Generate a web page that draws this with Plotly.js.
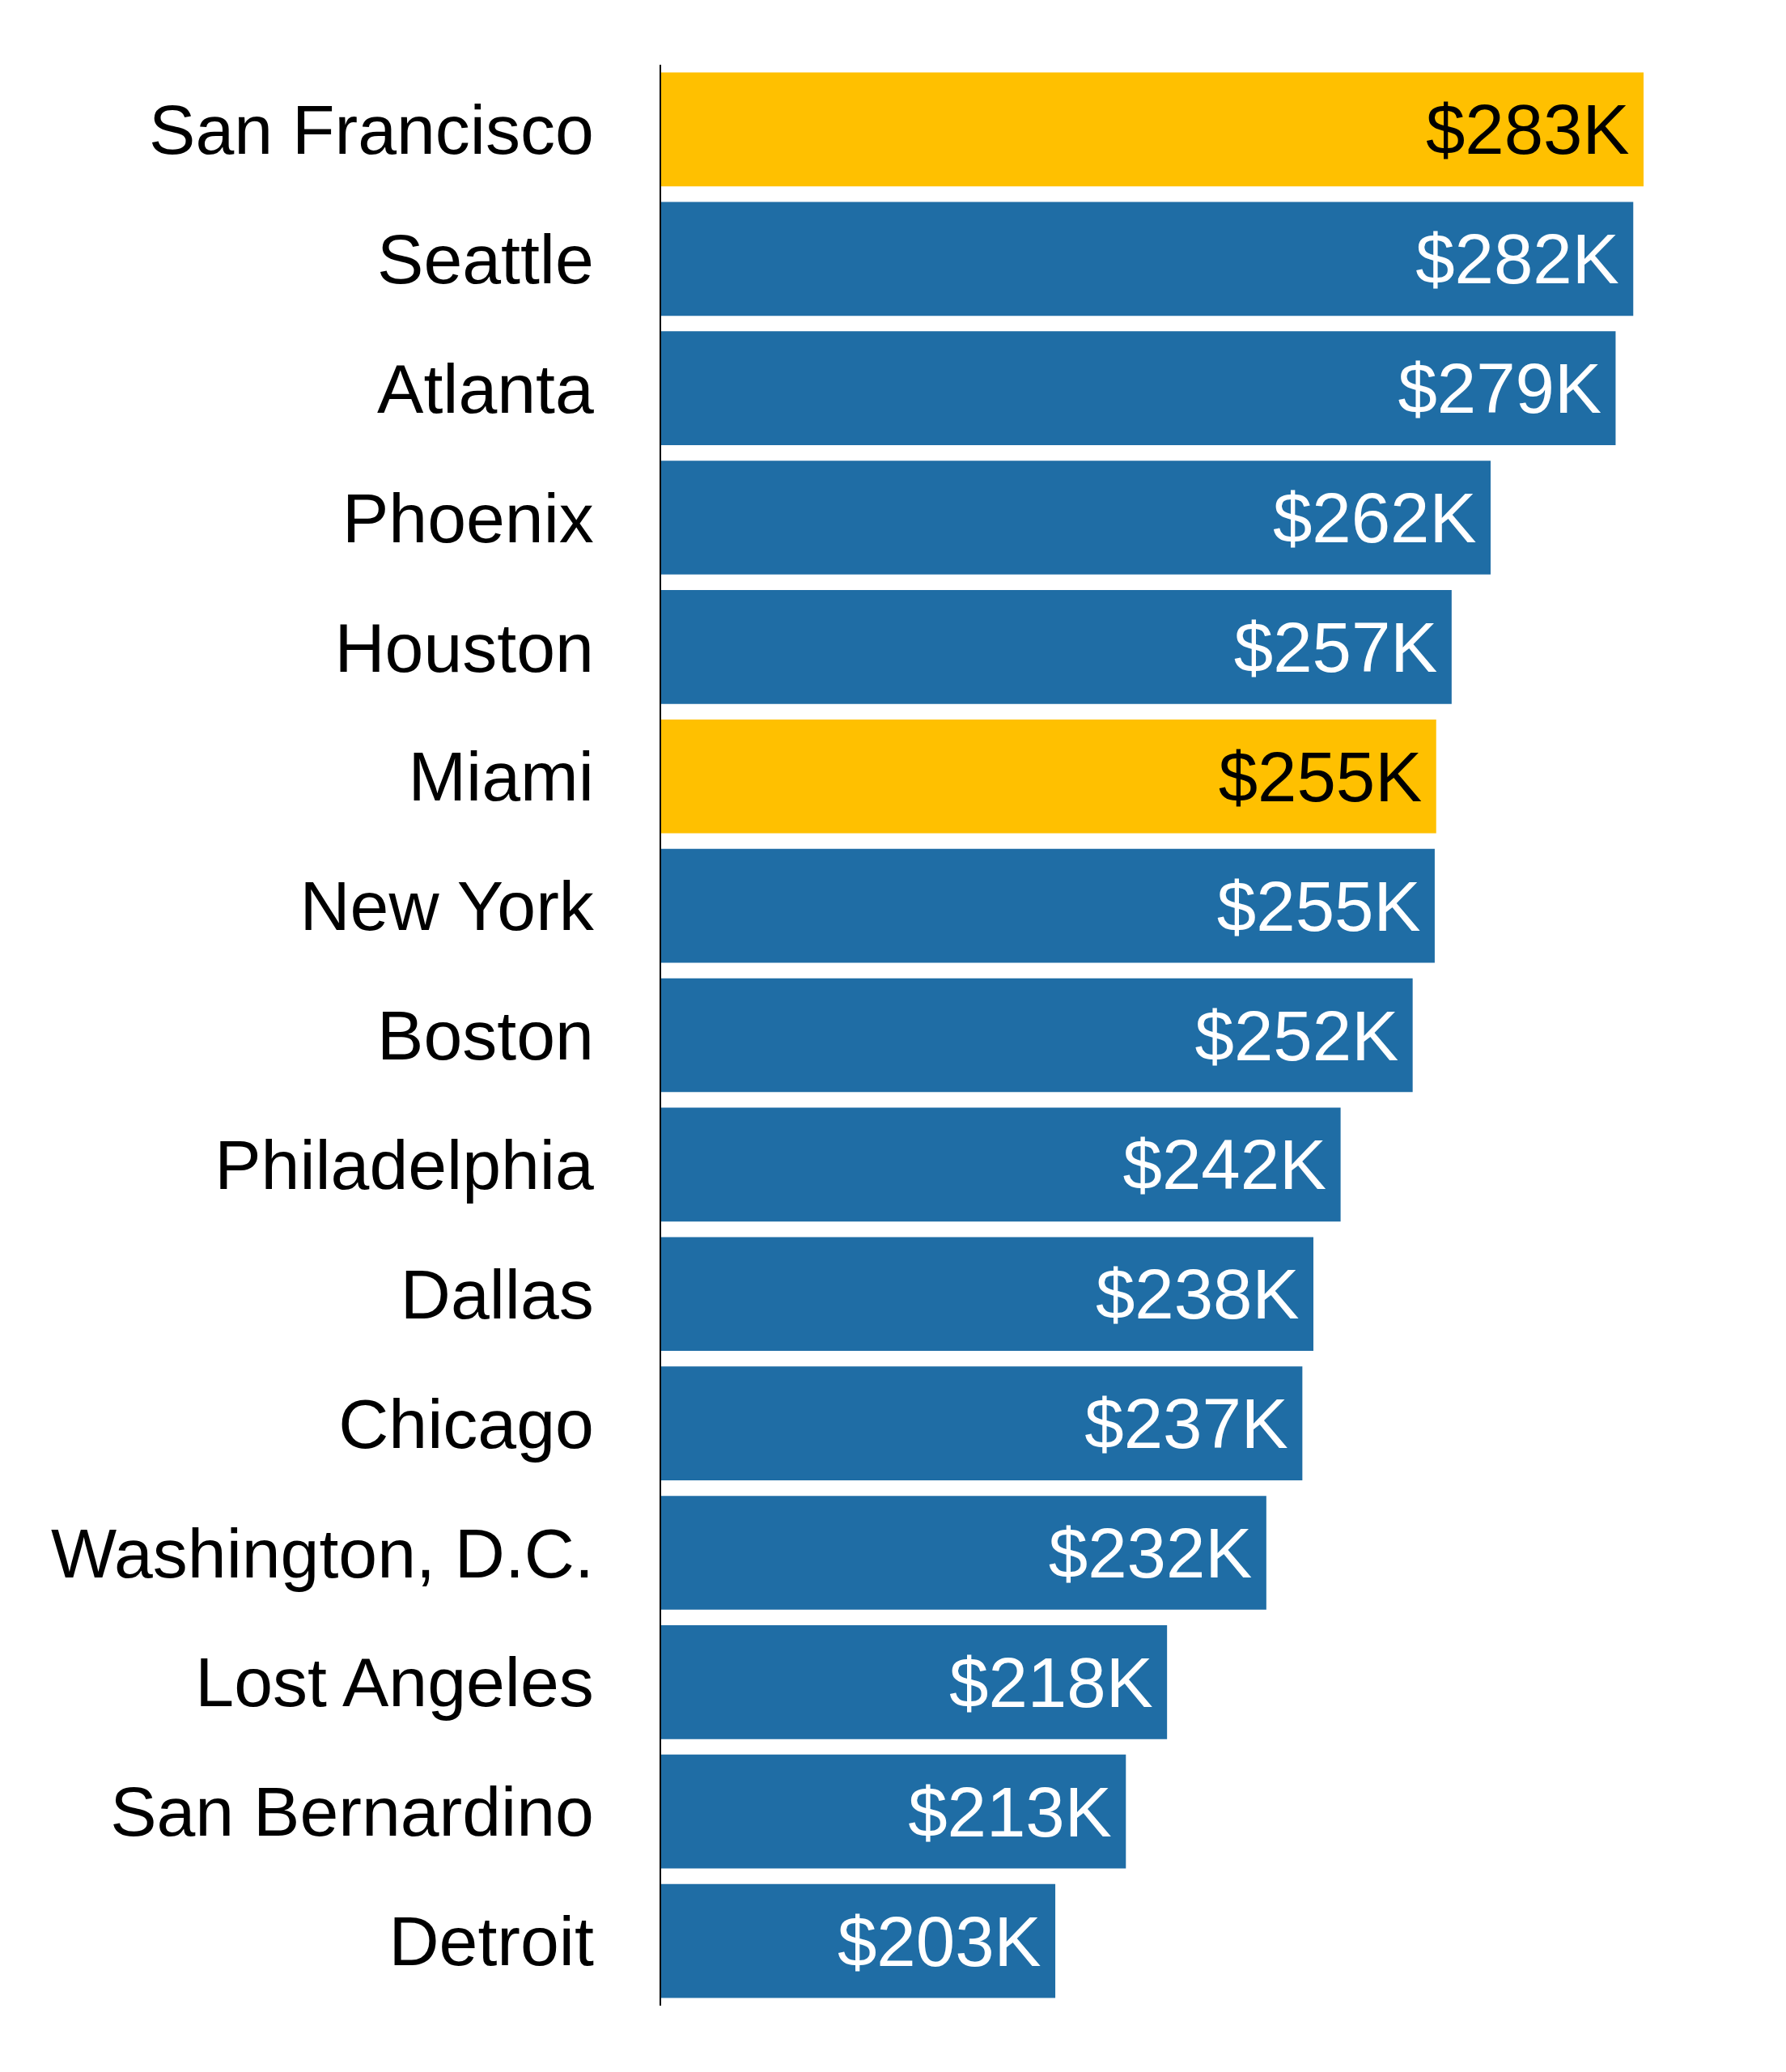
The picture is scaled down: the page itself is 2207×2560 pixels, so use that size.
<!DOCTYPE html>
<html>
<head>
<meta charset="utf-8">
<script src="https://cdn.plot.ly/plotly-3.0.1.min.js"></script>
<style>html,body{margin:0;padding:0;background:#fff;}</style>
</head>
<body>
<div id="chart" style="width:2207px;height:2560px;"></div>
<script>
const cities = ["San Francisco","Seattle","Atlanta","Phoenix","Houston","Miami","New York","Boston","Philadelphia","Dallas","Chicago","Washington, D.C.","Lost Angeles","San Bernardino","Detroit"];
const values = [283, 281.6, 279.2, 262.2, 256.9, 254.8, 254.6, 251.6, 241.8, 238.1, 236.6, 231.7, 218.2, 212.6, 203];
const labels = ["$283K","$282K","$279K","$262K","$257K","$255K","$255K","$252K","$242K","$238K","$237K","$232K","$218K","$213K","$203K"];
const highlighted = ["San Francisco","Miami"];

const YELLOW = "#FFC000", BLUE = "#1F6DA5";
const barColors = cities.map(c => highlighted.includes(c) ? YELLOW : BLUE);
const textColors = cities.map(c => highlighted.includes(c) ? "#000000" : "#FFFFFF");

const trace = {
  type: "bar",
  orientation: "h",
  x: values,
  y: cities,
  text: labels,
  texttemplate: "%{text}\u2006",
  textposition: "inside",
  insidetextanchor: "end",
  textangle: 0,
  constraintext: "none",
  textfont: {family: "Liberation Sans, Arial, sans-serif", size: 87, color: textColors},
  marker: {color: barColors, line: {width: 0}},
  hoverinfo: "none"
};

const layout = {
  width: 2207,
  height: 2560,
  margin: {l: 817, r: 27, t: 80, b: 82, pad: 0},
  paper_bgcolor: "#FFFFFF",
  plot_bgcolor: "#FFFFFF",
  bargap: 0.12,
  showlegend: false,
  xaxis: {
    range: [149.4, 299.4],
    showgrid: false,
    zeroline: false,
    showline: false,
    showticklabels: false,
    ticks: ""
  },
  yaxis: {
    autorange: "reversed",
    type: "category",
    showgrid: false,
    zeroline: false,
    showline: true,
    linecolor: "#000000",
    linewidth: 2,
    ticks: "",
    ticklabelstandoff: 64,
    tickfont: {family: "Liberation Sans, Arial, sans-serif", size: 86, color: "#000000"}
  }
};

Plotly.newPlot("chart", [trace], layout, {displayModeBar: false, staticPlot: true});
</script>
</body>
</html>
